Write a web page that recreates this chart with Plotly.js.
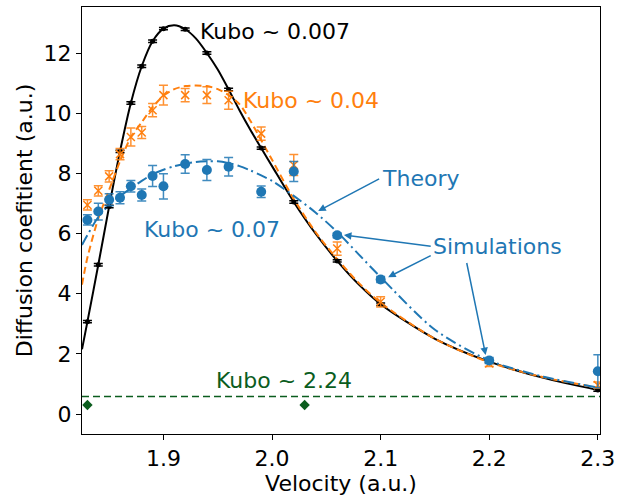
<!DOCTYPE html>
<html>
<head>
<meta charset="utf-8">
<script src="https://cdn.plot.ly/plotly-3.0.1.min.js"></script>
<style>html,body{margin:0;padding:0;background:#fff;}#chart{width:626px;height:498px;}</style>
</head>
<body>
<div id="chart"></div>
<script>
// ---- data ----
const simX = [1.83,1.84,1.85,1.86,1.87,1.88,1.89,1.90,1.92,1.94,1.96,1.99,2.02,2.06,2.10,2.20,2.30];

const simBlack = [3.07,4.96,6.90,8.73,10.34,11.56,12.39,12.81,12.79,12.00,10.79,8.84,7.05,5.09,3.65,1.74,0.80];
const errBlack = [0.04,0.04,0.04,0.04,0.04,0.04,0.04,0.04,0.04,0.04,0.04,0.04,0.04,0.04,0.04,0.04,0.04];

const simOrange = [6.95,7.42,7.90,8.64,9.21,9.36,10.10,10.60,10.60,10.60,10.43,9.32,8.28,5.50,3.73,1.68,0.96];
const errOrange = [0.17,0.17,0.19,0.19,0.30,0.20,0.22,0.33,0.22,0.28,0.30,0.22,0.35,0.22,0.17,0.10,0.10];

const simBlue = [6.45,6.73,7.12,7.19,7.57,7.28,7.91,7.57,8.31,8.11,8.22,7.39,8.06,5.94,4.47,1.78,1.42];
const errBlue = [0.17,0.28,0.20,0.20,0.19,0.20,0.35,0.42,0.31,0.35,0.31,0.19,0.33,0.08,0.10,0.10,0.55];

const simGreenX = [1.83,2.03];
const simGreen = [0.30,0.30];
const kuboLimit = 0.58;

const theoryX = [1.825,1.83,1.84,1.85,1.86,1.87,1.88,1.89,1.90,1.91,1.92,1.93,1.94,1.95,1.96,1.97,1.98,1.99,2.00,2.02,2.04,2.06,2.08,2.10,2.15,2.20,2.25,2.30];
const theoryBlack = [2.15,3.07,4.96,6.90,8.73,10.34,11.56,12.39,12.81,12.92,12.79,12.48,12.00,11.45,10.79,10.10,9.45,8.84,8.24,7.05,6.00,5.09,4.30,3.65,2.50,1.74,1.20,0.80];
const theoryOrange = [4.30,5.20,6.50,7.45,8.40,9.20,9.70,10.20,10.58,10.80,10.90,10.92,10.90,10.80,10.60,10.30,9.75,9.10,8.45,7.15,6.05,5.15,4.35,3.70,2.50,1.72,1.22,0.88];
const theoryBlue = [5.62,5.95,6.55,6.95,7.25,7.50,7.75,7.97,8.12,8.24,8.32,8.38,8.40,8.40,8.34,8.24,8.10,7.93,7.75,7.25,6.70,6.05,5.30,4.55,2.80,1.78,1.24,0.88];

const xTicks = [1.9,2.0,2.1,2.2,2.3];
const yTicks = [0,2,4,6,8,10,12];

// ---- styles ----
const BLUE = '#1f77b4', ORANGE = '#ff7f0e', GREEN = '#0b5d1e';
const FONT = 'DejaVu Sans, sans-serif';
const FS = 22;

const traces = [
  {x: theoryX, y: theoryBlack, mode:'lines', line:{color:'black', width:2, shape:'spline', smoothing:0.8}},
  {x: theoryX, y: theoryOrange, mode:'lines', line:{color:ORANGE, width:2, dash:'7px,4px', shape:'spline', smoothing:0.8}},
  {x: theoryX, y: theoryBlue, mode:'lines', line:{color:BLUE, width:2, dash:'11px,4px,2px,4px', shape:'spline', smoothing:0.8}},
  {x: simX, y: simBlack, mode:'markers', marker:{color:'black', size:5, symbol:'circle'},
   error_y:{type:'data', array: errBlack, visible:true, color:'black', thickness:1.5, width:4.5}},
  {x: simX, y: simOrange, mode:'markers', marker:{color:ORANGE, size:8, symbol:'x-thin-open', line:{color:ORANGE, width:1.5}},
   error_y:{type:'data', array: errOrange, visible:true, color:'rgba(255,127,14,0.85)', thickness:1.5, width:4.5}},
  {x: simX, y: simBlue, mode:'markers', marker:{color:BLUE, size:10, symbol:'circle'},
   error_y:{type:'data', array: errBlue, visible:true, color:'rgba(31,119,180,0.85)', thickness:1.5, width:4.5}},
  {x: simGreenX, y: simGreen, mode:'markers', marker:{color:GREEN, size:8, symbol:'diamond'}}
];

const ann = (text, x, y, color) => ({text, x, y, xref:'x', yref:'y', xanchor:'left', yanchor:'middle', showarrow:false, borderpad:0, font:{family:FONT, size:FS, color}});
const arrow = (ax, ay, x, y) => ({text:'', x, y, ax, ay, xref:'x', yref:'y', axref:'x', ayref:'y', showarrow:true, arrowhead:2, arrowsize:1, arrowwidth:1.5, arrowcolor:BLUE, standoff:0, startstandoff:0});

const layout = {
  width: 626, height: 498,
  margin: {l: 82, r: 26, t: 7, b: 64},
  paper_bgcolor: 'white', plot_bgcolor: 'white',
  showlegend: false,
  font: {family: FONT, size: FS, color: 'black'},
  xaxis: {
    range: [1.825, 2.302], tickvals: xTicks, ticktext: xTicks.map(v => v.toFixed(1)),
    ticks: 'outside', ticklen: 5, tickwidth: 1, tickcolor: 'black',
    showgrid: false, zeroline: false, showline: true, mirror: true, linecolor: 'black', linewidth: 1,
    tickfont: {family: FONT, size: FS, color: 'black'},
    title: {text: 'Velocity (a.u.)', font: {family: FONT, size: FS, color: 'black'}, standoff: 3}
  },
  yaxis: {
    range: [-0.665, 13.53], tickvals: yTicks, ticktext: yTicks.map(String),
    ticks: 'outside', ticklen: 5, tickwidth: 1, tickcolor: 'black',
    showgrid: false, zeroline: false, showline: true, mirror: true, linecolor: 'black', linewidth: 1,
    tickfont: {family: FONT, size: FS, color: 'black'},
    title: {text: 'Diffusion coefitient (a.u.)', font: {family: FONT, size: FS, color: 'black'}, standoff: 4}
  },
  shapes: [
    {type:'line', xref:'paper', x0:0, x1:1, yref:'y', y0:kuboLimit, y1:kuboLimit, line:{color:GREEN, width:1.5, dash:'7px,4px'}}
  ],
  annotations: [
    ann('Kubo ~ 0.007', 1.9330, 12.70, 'black'),
    ann('Kubo ~ 0.04', 1.9720, 10.41, ORANGE),
    ann('Kubo ~ 0.07', 1.8815, 6.12, BLUE),
    ann('Theory', 2.1000, 7.84, BLUE),
    ann('Simulations', 2.1475, 5.57, BLUE),
    ann('Kubo ~ 2.24', 1.9475, 1.13, GREEN),
    arrow(2.1000, 7.84, 2.0425, 6.75),
    arrow(2.1475, 5.57, 2.0662, 5.95),
    arrow(2.1475, 5.29, 2.1069, 4.55),
    arrow(2.179, 5.07, 2.1967, 1.96)
  ]
};

Plotly.newPlot('chart', traces, layout, {staticPlot: true, displayModeBar: false});
</script>
</body>
</html>
